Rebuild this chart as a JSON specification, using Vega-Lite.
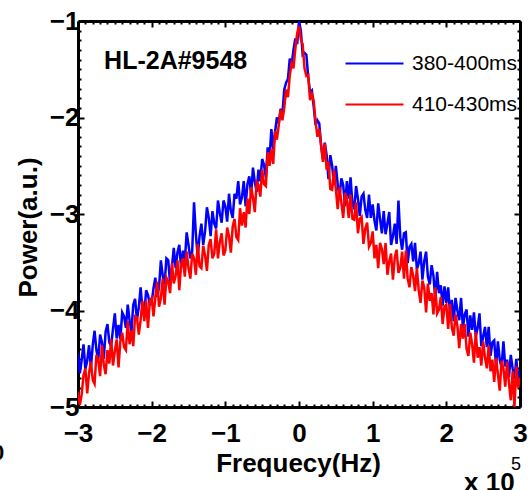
{
  "$schema": "https://vega.github.io/schema/vega-lite/v6.json",
  "width": 442,
  "height": 386,
  "autosize": {"type": "none"},
  "padding": {"left": 78, "top": 21, "right": 10, "bottom": 83},
  "background": "white",
  "config": {"view": {"stroke": null}, "font": "Liberation Sans"},
  "layer": [
    {
      "data": {"values": [
        {"f":-3.000,"380-400ms":-4.45,"410-430ms":-4.84},{"f":-2.975,"380-400ms":-4.65,"410-430ms":-4.98},{"f":-2.950,"380-400ms":-4.51,"410-430ms":-4.87},{"f":-2.925,"380-400ms":-4.35,"410-430ms":-4.67},
        {"f":-2.900,"380-400ms":-4.61,"410-430ms":-4.60},{"f":-2.875,"380-400ms":-4.52,"410-430ms":-4.86},{"f":-2.850,"380-400ms":-4.36,"410-430ms":-4.65},{"f":-2.825,"380-400ms":-4.60,"410-430ms":-4.53},
        {"f":-2.800,"380-400ms":-4.36,"410-430ms":-4.72},{"f":-2.775,"380-400ms":-4.21,"410-430ms":-4.76},{"f":-2.750,"380-400ms":-4.41,"410-430ms":-4.46},{"f":-2.725,"380-400ms":-4.51,"410-430ms":-4.51},
        {"f":-2.700,"380-400ms":-4.25,"410-430ms":-4.68},{"f":-2.675,"380-400ms":-4.33,"410-430ms":-4.36},{"f":-2.650,"380-400ms":-4.50,"410-430ms":-4.56},{"f":-2.625,"380-400ms":-4.22,"410-430ms":-4.66},
        {"f":-2.600,"380-400ms":-4.14,"410-430ms":-4.41},{"f":-2.575,"380-400ms":-4.33,"410-430ms":-4.55},{"f":-2.550,"380-400ms":-4.37,"410-430ms":-4.30},{"f":-2.525,"380-400ms":-4.19,"410-430ms":-4.57},
        {"f":-2.500,"380-400ms":-4.03,"410-430ms":-4.42},{"f":-2.475,"380-400ms":-4.29,"410-430ms":-4.30},{"f":-2.450,"380-400ms":-4.15,"410-430ms":-4.59},{"f":-2.425,"380-400ms":-4.30,"410-430ms":-4.32},
        {"f":-2.400,"380-400ms":-4.02,"410-430ms":-4.23},{"f":-2.375,"380-400ms":-4.06,"410-430ms":-4.38},{"f":-2.350,"380-400ms":-4.18,"410-430ms":-4.41},{"f":-2.325,"380-400ms":-3.94,"410-430ms":-4.11},
        {"f":-2.300,"380-400ms":-4.10,"410-430ms":-4.35},{"f":-2.275,"380-400ms":-4.22,"410-430ms":-4.21},{"f":-2.250,"380-400ms":-3.94,"410-430ms":-4.37},{"f":-2.225,"380-400ms":-3.88,"410-430ms":-4.06},
        {"f":-2.200,"380-400ms":-4.10,"410-430ms":-4.07},{"f":-2.175,"380-400ms":-3.97,"410-430ms":-4.25},{"f":-2.150,"380-400ms":-3.76,"410-430ms":-4.10},{"f":-2.125,"380-400ms":-3.99,"410-430ms":-3.90},
        {"f":-2.100,"380-400ms":-4.04,"410-430ms":-4.11},{"f":-2.075,"380-400ms":-3.79,"410-430ms":-3.90},{"f":-2.050,"380-400ms":-3.84,"410-430ms":-4.18},{"f":-2.025,"380-400ms":-3.94,"410-430ms":-3.90},
        {"f":-2.000,"380-400ms":-3.92,"410-430ms":-3.87},{"f":-1.975,"380-400ms":-3.77,"410-430ms":-4.06},{"f":-1.950,"380-400ms":-3.66,"410-430ms":-3.86},{"f":-1.925,"380-400ms":-3.86,"410-430ms":-3.70},
        {"f":-1.900,"380-400ms":-3.76,"410-430ms":-3.96},{"f":-1.875,"380-400ms":-3.48,"410-430ms":-3.87},{"f":-1.850,"380-400ms":-3.64,"410-430ms":-3.67},{"f":-1.825,"380-400ms":-3.73,"410-430ms":-3.94},
        {"f":-1.800,"380-400ms":-3.46,"410-430ms":-3.66},{"f":-1.775,"380-400ms":-3.48,"410-430ms":-3.70},{"f":-1.750,"380-400ms":-3.72,"410-430ms":-3.82},{"f":-1.725,"380-400ms":-3.55,"410-430ms":-3.51},
        {"f":-1.700,"380-400ms":-3.35,"410-430ms":-3.72},{"f":-1.675,"380-400ms":-3.56,"410-430ms":-3.64},{"f":-1.650,"380-400ms":-3.40,"410-430ms":-3.48},{"f":-1.625,"380-400ms":-3.32,"410-430ms":-3.79},
        {"f":-1.600,"380-400ms":-3.56,"410-430ms":-3.52},{"f":-1.575,"380-400ms":-3.38,"410-430ms":-3.46},{"f":-1.550,"380-400ms":-3.49,"410-430ms":-3.65},{"f":-1.525,"380-400ms":-3.19,"410-430ms":-3.39},
        {"f":-1.500,"380-400ms":-3.32,"410-430ms":-3.56},{"f":-1.475,"380-400ms":-3.46,"410-430ms":-3.67},{"f":-1.450,"380-400ms":-3.39,"410-430ms":-3.41},{"f":-1.425,"380-400ms":-2.88,"410-430ms":-3.46},
        {"f":-1.400,"380-400ms":-3.21,"410-430ms":-3.63},{"f":-1.375,"380-400ms":-3.44,"410-430ms":-3.31},{"f":-1.350,"380-400ms":-3.23,"410-430ms":-3.54},{"f":-1.325,"380-400ms":-3.10,"410-430ms":-3.56},
        {"f":-1.300,"380-400ms":-3.32,"410-430ms":-3.33},{"f":-1.275,"380-400ms":-3.18,"410-430ms":-3.43},{"f":-1.250,"380-400ms":-2.93,"410-430ms":-3.59},{"f":-1.225,"380-400ms":-3.04,"410-430ms":-3.32},
        {"f":-1.200,"380-400ms":-3.23,"410-430ms":-3.26},{"f":-1.175,"380-400ms":-2.97,"410-430ms":-3.46},{"f":-1.150,"380-400ms":-3.10,"410-430ms":-3.41},{"f":-1.125,"380-400ms":-3.15,"410-430ms":-3.16},
        {"f":-1.100,"380-400ms":-2.86,"410-430ms":-3.46},{"f":-1.075,"380-400ms":-2.99,"410-430ms":-3.29},{"f":-1.050,"380-400ms":-3.09,"410-430ms":-3.20},{"f":-1.025,"380-400ms":-2.86,"410-430ms":-3.43},
        {"f":-1.000,"380-400ms":-2.92,"410-430ms":-3.38},{"f":-0.975,"380-400ms":-3.08,"410-430ms":-3.14},{"f":-0.950,"380-400ms":-2.79,"410-430ms":-3.23},{"f":-0.925,"380-400ms":-2.97,"410-430ms":-3.40},
        {"f":-0.900,"380-400ms":-3.04,"410-430ms":-3.13},{"f":-0.875,"380-400ms":-2.79,"410-430ms":-3.05},{"f":-0.850,"380-400ms":-2.84,"410-430ms":-3.24},{"f":-0.825,"380-400ms":-2.66,"410-430ms":-3.27},
        {"f":-0.800,"380-400ms":-2.90,"410-430ms":-2.94},{"f":-0.775,"380-400ms":-2.83,"410-430ms":-3.12},{"f":-0.750,"380-400ms":-2.66,"410-430ms":-2.98},{"f":-0.725,"380-400ms":-2.92,"410-430ms":-3.14},
        {"f":-0.700,"380-400ms":-2.69,"410-430ms":-2.84},{"f":-0.675,"380-400ms":-2.61,"410-430ms":-3.00},{"f":-0.650,"380-400ms":-2.80,"410-430ms":-2.72},{"f":-0.625,"380-400ms":-2.52,"410-430ms":-2.83},
        {"f":-0.600,"380-400ms":-2.67,"410-430ms":-2.98},{"f":-0.575,"380-400ms":-2.77,"410-430ms":-2.67},{"f":-0.550,"380-400ms":-2.54,"410-430ms":-2.70},{"f":-0.525,"380-400ms":-2.66,"410-430ms":-2.82},
        {"f":-0.500,"380-400ms":-2.43,"410-430ms":-2.54},{"f":-0.475,"380-400ms":-2.49,"410-430ms":-2.69},{"f":-0.450,"380-400ms":-2.62,"410-430ms":-2.71},{"f":-0.425,"380-400ms":-2.31,"410-430ms":-2.36},
        {"f":-0.400,"380-400ms":-2.42,"410-430ms":-2.50},{"f":-0.375,"380-400ms":-2.12,"410-430ms":-2.33},{"f":-0.350,"380-400ms":-2.33,"410-430ms":-2.48},{"f":-0.325,"380-400ms":-2.15,"410-430ms":-2.14},
        {"f":-0.300,"380-400ms":-2.00,"410-430ms":-2.23},{"f":-0.275,"380-400ms":-2.06,"410-430ms":-2.08},{"f":-0.250,"380-400ms":-1.91,"410-430ms":-1.92},{"f":-0.225,"380-400ms":-1.96,"410-430ms":-2.03},
        {"f":-0.200,"380-400ms":-1.71,"410-430ms":-1.90},{"f":-0.175,"380-400ms":-1.64,"410-430ms":-1.71},{"f":-0.150,"380-400ms":-1.60,"410-430ms":-1.79},{"f":-0.125,"380-400ms":-1.39,"410-430ms":-1.56},
        {"f":-0.100,"380-400ms":-1.45,"410-430ms":-1.44},{"f":-0.075,"380-400ms":-1.30,"410-430ms":-1.49},{"f":-0.050,"380-400ms":-1.18,"410-430ms":-1.29},{"f":-0.025,"380-400ms":-1.24,"410-430ms":-1.13},
        {"f":0.000,"380-400ms":-1.00,"410-430ms":-1.05},{"f":0.025,"380-400ms":-1.10,"410-430ms":-1.19},{"f":0.050,"380-400ms":-1.35,"410-430ms":-1.24},{"f":0.075,"380-400ms":-1.33,"410-430ms":-1.49},
        {"f":0.100,"380-400ms":-1.35,"410-430ms":-1.57},{"f":0.125,"380-400ms":-1.58,"410-430ms":-1.56},{"f":0.150,"380-400ms":-1.74,"410-430ms":-1.82},{"f":0.175,"380-400ms":-1.72,"410-430ms":-1.76},
        {"f":0.200,"380-400ms":-1.89,"410-430ms":-1.83},{"f":0.225,"380-400ms":-2.08,"410-430ms":-2.04},{"f":0.250,"380-400ms":-2.03,"410-430ms":-2.20},{"f":0.275,"380-400ms":-2.06,"410-430ms":-2.12},
        {"f":0.300,"380-400ms":-2.29,"410-430ms":-2.29},{"f":0.325,"380-400ms":-2.43,"410-430ms":-2.46},{"f":0.350,"380-400ms":-2.26,"410-430ms":-2.27},{"f":0.375,"380-400ms":-2.39,"410-430ms":-2.54},
        {"f":0.400,"380-400ms":-2.64,"410-430ms":-2.46},{"f":0.425,"380-400ms":-2.39,"410-430ms":-2.74},{"f":0.450,"380-400ms":-2.50,"410-430ms":-2.75},{"f":0.475,"380-400ms":-2.70,"410-430ms":-2.54},
        {"f":0.500,"380-400ms":-2.50,"410-430ms":-2.74},{"f":0.525,"380-400ms":-2.69,"410-430ms":-2.95},{"f":0.550,"380-400ms":-2.83,"410-430ms":-2.72},{"f":0.575,"380-400ms":-2.63,"410-430ms":-2.88},
        {"f":0.600,"380-400ms":-2.70,"410-430ms":-3.04},{"f":0.625,"380-400ms":-2.92,"410-430ms":-2.78},{"f":0.650,"380-400ms":-2.66,"410-430ms":-2.85},{"f":0.675,"380-400ms":-2.84,"410-430ms":-3.04},
        {"f":0.700,"380-400ms":-2.62,"410-430ms":-2.80},{"f":0.725,"380-400ms":-2.90,"410-430ms":-3.05},{"f":0.750,"380-400ms":-2.94,"410-430ms":-3.06},{"f":0.775,"380-400ms":-2.71,"410-430ms":-2.88},
        {"f":0.800,"380-400ms":-2.84,"410-430ms":-3.20},{"f":0.825,"380-400ms":-3.02,"410-430ms":-3.05},{"f":0.850,"380-400ms":-2.82,"410-430ms":-3.03},{"f":0.875,"380-400ms":-2.79,"410-430ms":-3.31},
        {"f":0.900,"380-400ms":-2.96,"410-430ms":-3.15},{"f":0.925,"380-400ms":-3.04,"410-430ms":-3.09},{"f":0.950,"380-400ms":-2.80,"410-430ms":-3.34},{"f":0.975,"380-400ms":-3.04,"410-430ms":-3.30},
        {"f":1.000,"380-400ms":-2.90,"410-430ms":-3.18},{"f":1.025,"380-400ms":-3.07,"410-430ms":-3.46},{"f":1.050,"380-400ms":-3.17,"410-430ms":-3.32},{"f":1.075,"380-400ms":-2.89,"410-430ms":-3.56},
        {"f":1.100,"380-400ms":-3.05,"410-430ms":-3.30},{"f":1.125,"380-400ms":-3.20,"410-430ms":-3.36},{"f":1.150,"380-400ms":-2.97,"410-430ms":-3.52},{"f":1.175,"380-400ms":-3.21,"410-430ms":-3.30},
        {"f":1.200,"380-400ms":-3.10,"410-430ms":-3.63},{"f":1.225,"380-400ms":-2.98,"410-430ms":-3.49},{"f":1.250,"380-400ms":-3.32,"410-430ms":-3.41},{"f":1.275,"380-400ms":-3.23,"410-430ms":-3.68},
        {"f":1.300,"380-400ms":-3.10,"410-430ms":-3.45},{"f":1.325,"380-400ms":-3.31,"410-430ms":-3.37},{"f":1.350,"380-400ms":-2.86,"410-430ms":-3.61},{"f":1.375,"380-400ms":-3.24,"410-430ms":-3.56},
        {"f":1.400,"380-400ms":-3.37,"410-430ms":-3.39},{"f":1.425,"380-400ms":-3.20,"410-430ms":-3.67},{"f":1.450,"380-400ms":-3.19,"410-430ms":-3.38},{"f":1.475,"380-400ms":-3.51,"410-430ms":-3.67},
        {"f":1.500,"380-400ms":-3.34,"410-430ms":-3.76},{"f":1.525,"380-400ms":-3.31,"410-430ms":-3.55},{"f":1.550,"380-400ms":-3.49,"410-430ms":-3.64},{"f":1.575,"380-400ms":-3.30,"410-430ms":-3.80},
        {"f":1.600,"380-400ms":-3.57,"410-430ms":-3.56},{"f":1.625,"380-400ms":-3.51,"410-430ms":-3.79},{"f":1.650,"380-400ms":-3.39,"410-430ms":-3.92},{"f":1.675,"380-400ms":-3.68,"410-430ms":-3.69},
        {"f":1.700,"380-400ms":-3.49,"410-430ms":-3.76},{"f":1.725,"380-400ms":-3.39,"410-430ms":-4.02},{"f":1.750,"380-400ms":-3.65,"410-430ms":-3.72},{"f":1.775,"380-400ms":-3.73,"410-430ms":-3.90},
        {"f":1.800,"380-400ms":-3.53,"410-430ms":-3.82},{"f":1.825,"380-400ms":-3.64,"410-430ms":-4.04},{"f":1.850,"380-400ms":-3.88,"410-430ms":-3.76},{"f":1.875,"380-400ms":-3.60,"410-430ms":-4.03},
        {"f":1.900,"380-400ms":-3.82,"410-430ms":-3.99},{"f":1.925,"380-400ms":-3.74,"410-430ms":-3.86},{"f":1.950,"380-400ms":-3.95,"410-430ms":-4.14},{"f":1.975,"380-400ms":-3.75,"410-430ms":-3.96},
        {"f":2.000,"380-400ms":-3.92,"410-430ms":-3.94},{"f":2.025,"380-400ms":-3.76,"410-430ms":-4.19},{"f":2.050,"380-400ms":-4.03,"410-430ms":-3.93},{"f":2.075,"380-400ms":-3.89,"410-430ms":-4.18},
        {"f":2.100,"380-400ms":-4.11,"410-430ms":-4.26},{"f":2.125,"380-400ms":-3.87,"410-430ms":-4.04},{"f":2.150,"380-400ms":-4.00,"410-430ms":-4.16},{"f":2.175,"380-400ms":-4.10,"410-430ms":-4.39},
        {"f":2.200,"380-400ms":-3.87,"410-430ms":-4.14},{"f":2.225,"380-400ms":-4.18,"410-430ms":-4.29},{"f":2.250,"380-400ms":-4.04,"410-430ms":-4.14},{"f":2.275,"380-400ms":-3.99,"410-430ms":-4.40},
        {"f":2.300,"380-400ms":-4.27,"410-430ms":-4.47},{"f":2.325,"380-400ms":-4.05,"410-430ms":-4.23},{"f":2.350,"380-400ms":-4.20,"410-430ms":-4.35},{"f":2.375,"380-400ms":-4.02,"410-430ms":-4.54},
        {"f":2.400,"380-400ms":-4.27,"410-430ms":-4.22},{"f":2.425,"380-400ms":-4.18,"410-430ms":-4.49},{"f":2.450,"380-400ms":-4.03,"410-430ms":-4.38},{"f":2.475,"380-400ms":-4.37,"410-430ms":-4.57},
        {"f":2.500,"380-400ms":-4.27,"410-430ms":-4.32},{"f":2.525,"380-400ms":-4.17,"410-430ms":-4.49},{"f":2.550,"380-400ms":-4.38,"410-430ms":-4.60},{"f":2.575,"380-400ms":-4.17,"410-430ms":-4.36},
        {"f":2.600,"380-400ms":-4.47,"410-430ms":-4.63},{"f":2.625,"380-400ms":-4.33,"410-430ms":-4.51},{"f":2.650,"380-400ms":-4.31,"410-430ms":-4.74},{"f":2.675,"380-400ms":-4.58,"410-430ms":-4.49},
        {"f":2.700,"380-400ms":-4.32,"410-430ms":-4.66},{"f":2.725,"380-400ms":-4.51,"410-430ms":-4.83},{"f":2.750,"380-400ms":-4.59,"410-430ms":-4.52},{"f":2.775,"380-400ms":-4.32,"410-430ms":-4.60},
        {"f":2.800,"380-400ms":-4.58,"410-430ms":-4.79},{"f":2.825,"380-400ms":-4.51,"410-430ms":-4.53},{"f":2.850,"380-400ms":-4.69,"410-430ms":-4.75},{"f":2.875,"380-400ms":-4.46,"410-430ms":-4.93},
        {"f":2.900,"380-400ms":-4.60,"410-430ms":-4.63},{"f":2.925,"380-400ms":-4.71,"410-430ms":-5.00},{"f":2.950,"380-400ms":-4.50,"410-430ms":-4.58},{"f":2.975,"380-400ms":-4.73,"410-430ms":-4.80},
        {"f":3.000,"380-400ms":-4.62,"410-430ms":-4.70}
      ]},
      "transform": [{"fold": ["380-400ms", "410-430ms"], "as": ["series", "p"]}],
      "mark": {"type": "line", "strokeWidth": 2.5, "clip": true},
      "encoding": {
        "x": {
          "field": "f", "type": "quantitative",
          "scale": {"domain": [-3, 3], "nice": false, "zero": false},
          "axis": {
            "orient": "bottom",
            "values": [-3,-2.9,-2.8,-2.7,-2.6,-2.5,-2.4,-2.3,-2.2,-2.1,-2,-1.9,-1.8,-1.7,-1.6,-1.5,-1.4,-1.3,-1.2,-1.1,-1,-0.9,-0.8,-0.7,-0.6,-0.5,-0.4,-0.3,-0.2,-0.1,0,0.1,0.2,0.3,0.4,0.5,0.6,0.7,0.8,0.9,1,1.1,1.2,1.3,1.4,1.5,1.6,1.7,1.8,1.9,2,2.1,2.2,2.3,2.4,2.5,2.6,2.7,2.8,2.9,3],
            "tickSize": {"condition": {"test": "datum.value % 1 === 0", "value": -6}, "value": -3},
            "tickWidth": 2, "tickColor": "black",
            "domainColor": "black", "domainWidth": 3,
            "grid": false,
            "labelExpr": "datum.value % 1 === 0 ? format(datum.value, 'd') : ''",
            "labelFont": "Liberation Sans", "labelFontSize": 26, "labelFontWeight": "bold", "labelColor": "black",
            "labelPadding": 19, "labelOverlap": false, "labelFlush": false, "labelBound": false,
            "title": "Frequecy(Hz)",
            "titleFont": "Liberation Sans", "titleFontSize": 26, "titleFontWeight": "bold", "titleColor": "black",
            "titleX": 220, "titleY": 64, "titleAlign": "center", "titleBaseline": "alphabetic"
          }
        },
        "y": {
          "field": "p", "type": "quantitative",
          "scale": {"domain": [-5, -1], "nice": false, "zero": false},
          "axis": {
            "orient": "left",
            "values": [-5,-4.9,-4.8,-4.7,-4.6,-4.5,-4.4,-4.3,-4.2,-4.1,-4,-3.9,-3.8,-3.7,-3.6,-3.5,-3.4,-3.3,-3.2,-3.1,-3,-2.9,-2.8,-2.7,-2.6,-2.5,-2.4,-2.3,-2.2,-2.1,-2,-1.9,-1.8,-1.7,-1.6,-1.5,-1.4,-1.3,-1.2,-1.1,-1],
            "tickSize": {"condition": {"test": "datum.value % 1 === 0", "value": -6}, "value": -3},
            "tickWidth": 2, "tickColor": "black",
            "domainColor": "black", "domainWidth": 3,
            "grid": false,
            "labelExpr": "datum.value % 1 === 0 ? format(datum.value, 'd') : ''",
            "labelFont": "Liberation Sans", "labelFontSize": 26, "labelFontWeight": "bold", "labelColor": "black",
            "labelPadding": 5, "labelOverlap": false, "labelFlush": false, "labelBound": false,
            "title": "Power(a.u.)",
            "titleFont": "Liberation Sans", "titleFontSize": 26, "titleFontWeight": "bold", "titleColor": "black",
            "titleAngle": -90, "titleX": -50, "titleY": 206, "titleAlign": "center", "titleBaseline": "middle"
          }
        },
        "color": {
          "field": "series", "type": "nominal",
          "scale": {"domain": ["380-400ms", "410-430ms"], "range": ["#0000ff", "#ff0000"]},
          "legend": {
            "orient": "none", "legendX": 266, "legendY": 12,
            "title": null, "padding": 0,
            "symbolType": "stroke", "symbolSize": 3364, "symbolStrokeWidth": 2.2,
            "labelFont": "Liberation Sans", "labelFontSize": 21, "labelColor": "black",
            "labelOffset": 7, "rowPadding": -14
          }
        }
      }
    },
    {
      "data": {"values": [{}]},
      "mark": {"type": "text", "text": "HL-2A#9548", "align": "left", "baseline": "alphabetic", "font": "Liberation Sans", "fontSize": 25, "fontWeight": "bold", "color": "black"},
      "encoding": {
        "x": {
          "datum": -2.646, "type": "quantitative",
          "scale": {"domain": [-3, 3], "nice": false, "zero": false},
          "axis": {
            "orient": "top",
            "values": [-3,-2.9,-2.8,-2.7,-2.6,-2.5,-2.4,-2.3,-2.2,-2.1,-2,-1.9,-1.8,-1.7,-1.6,-1.5,-1.4,-1.3,-1.2,-1.1,-1,-0.9,-0.8,-0.7,-0.6,-0.5,-0.4,-0.3,-0.2,-0.1,0,0.1,0.2,0.3,0.4,0.5,0.6,0.7,0.8,0.9,1,1.1,1.2,1.3,1.4,1.5,1.6,1.7,1.8,1.9,2,2.1,2.2,2.3,2.4,2.5,2.6,2.7,2.8,2.9,3],
            "tickSize": {"condition": {"test": "datum.value % 1 === 0", "value": -6}, "value": -3},
            "tickWidth": 2, "tickColor": "black",
            "domainColor": "black", "domainWidth": 3,
            "grid": false, "labels": false, "title": null
          }
        },
        "y": {
          "datum": -1.497, "type": "quantitative",
          "scale": {"domain": [-5, -1], "nice": false, "zero": false},
          "axis": {
            "orient": "right",
            "values": [-5,-4.9,-4.8,-4.7,-4.6,-4.5,-4.4,-4.3,-4.2,-4.1,-4,-3.9,-3.8,-3.7,-3.6,-3.5,-3.4,-3.3,-3.2,-3.1,-3,-2.9,-2.8,-2.7,-2.6,-2.5,-2.4,-2.3,-2.2,-2.1,-2,-1.9,-1.8,-1.7,-1.6,-1.5,-1.4,-1.3,-1.2,-1.1,-1],
            "tickSize": {"condition": {"test": "datum.value % 1 === 0", "value": -6}, "value": -3},
            "tickWidth": 2, "tickColor": "black",
            "domainColor": "black", "domainWidth": 3,
            "grid": false, "labels": false, "title": null
          }
        }
      }
    },
    {
      "data": {"values": [{}]},
      "mark": {"type": "text", "text": "x 10", "align": "left", "baseline": "alphabetic", "font": "Liberation Sans", "fontSize": 26, "fontWeight": "bold", "color": "black"},
      "encoding": {
        "x": {"datum": 2.24, "type": "quantitative", "scale": {"domain": [-3, 3], "nice": false, "zero": false}, "axis": null},
        "y": {"datum": -5.87, "type": "quantitative", "scale": {"domain": [-5, -1], "nice": false, "zero": false}, "axis": null}
      }
    },
    {
      "data": {"values": [{}]},
      "mark": {"type": "text", "text": "5", "align": "left", "baseline": "alphabetic", "font": "Liberation Sans", "fontSize": 18, "fontWeight": "normal", "color": "black"},
      "encoding": {
        "x": {"datum": 2.877, "type": "quantitative", "scale": {"domain": [-3, 3], "nice": false, "zero": false}, "axis": null},
        "y": {"datum": -5.653, "type": "quantitative", "scale": {"domain": [-5, -1], "nice": false, "zero": false}, "axis": null}
      }
    },
    {
      "data": {"values": [{}]},
      "mark": {"type": "text", "text": "0", "align": "right", "baseline": "alphabetic", "font": "Liberation Sans", "fontSize": 22, "fontWeight": "bold", "color": "black"},
      "encoding": {
        "x": {"datum": -4.0, "type": "quantitative", "scale": {"domain": [-3, 3], "nice": false, "zero": false}, "axis": null},
        "y": {"datum": -5.549, "type": "quantitative", "scale": {"domain": [-5, -1], "nice": false, "zero": false}, "axis": null}
      }
    }
  ],
  "resolve": {"axis": {"x": "independent", "y": "independent"}}
}
